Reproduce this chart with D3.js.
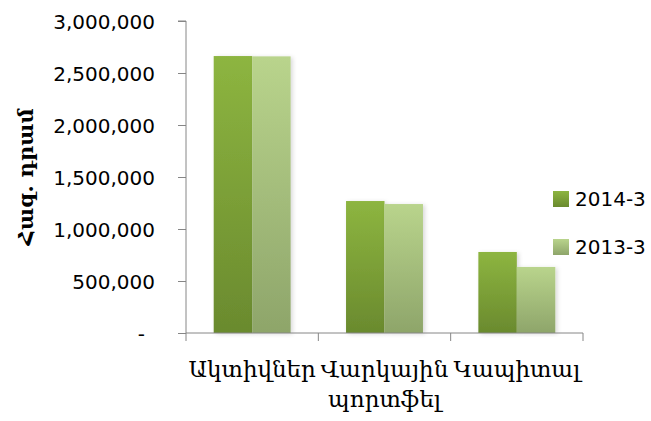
<!DOCTYPE html>
<html lang="hy">
<head>
<meta charset="UTF-8">
<title>Bar chart</title>
<script src="https://d3js.org/d3.v7.min.js"></script>
<style>
  body, html { margin: 0; background: #fff; }
  svg { display: block; }
  .tick-label { font-family: 'DejaVu Sans', sans-serif; font-size: 20px; fill: #000; }
  .cat-label { font-family: 'DejaVu Serif', serif; font-size: 23px; fill: #000; text-anchor: middle; }
  .legend-label { font-family: 'DejaVu Sans', sans-serif; font-size: 20px; fill: #000; }
  .y-title { font-family: 'DejaVu Serif', serif; font-size: 21px; font-weight: bold; fill: #000; text-anchor: middle; }
</style>
</head>
<body>
<svg width="651" height="421"></svg>
<script>
const categories = [["Ակտիվներ"], ["Վարկային", "պորտֆել"], ["Կապիտալ"]];
const seriesNames = ["2014-3", "2013-3"];
const values2014 = [2663000, 1269000, 779000];
const values2013 = [2660000, 1240000, 635000];
const yTicks = [0, 500000, 1000000, 1500000, 2000000, 2500000, 3000000];

const svg = d3.select("svg");
const mLeft = 186, mRight = 583, mTop = 21, mBottom = 333;

const x = d3.scaleBand().domain(d3.range(categories.length)).range([mLeft, mRight]).paddingInner(0).paddingOuter(0);
const xInner = d3.scaleBand().domain(seriesNames).range([0, x.bandwidth()]).paddingOuter(0.72);
const y = d3.scaleLinear().domain([0, 3000000]).range([mBottom, mTop]);

const defs = svg.append("defs");
const grads = [["g2014", "#8db540", "#6a8a2e"], ["g2013", "#b9d48c", "#8ea56a"]];
grads.forEach(([id, c1, c2]) => {
  const g = defs.append("linearGradient").attr("id", id).attr("x1", 0).attr("y1", 0).attr("x2", 0).attr("y2", 1);
  g.append("stop").attr("offset", "0%").attr("stop-color", c1);
  g.append("stop").attr("offset", "100%").attr("stop-color", c2);
});
const f = defs.append("filter").attr("id", "shadow").attr("x", "-20%").attr("y", "-5%").attr("width", "150%").attr("height", "110%");
f.append("feDropShadow").attr("dx", 2).attr("dy", 1).attr("stdDeviation", 2).attr("flood-color", "#000").attr("flood-opacity", 0.15);

// y axis
const yAxis = d3.axisLeft(y).tickValues(yTicks).tickSize(8).tickPadding(23)
  .tickFormat(d => d === 0 ? "-" : d3.format(",")(d));
const yg = svg.append("g").attr("transform", `translate(${mLeft},0)`).call(yAxis);
yg.select(".domain").attr("stroke", "#868686").attr("d", `M-8,${mTop}H0V${mBottom}`);
yg.selectAll(".tick line").attr("stroke", "#868686");
yg.selectAll(".tick text").attr("class", "tick-label").attr("dy", "0.35em");
yg.selectAll(".tick").filter(d => d === 0).select("text").attr("dx", -10);

// bars
const series = [values2014, values2013];
series.forEach((vals, si) => {
  svg.append("g").selectAll("rect").data(vals).join("rect")
    .attr("x", (d, i) => x(i) + xInner(seriesNames[si]))
    .attr("y", d => y(d))
    .attr("width", xInner.bandwidth())
    .attr("height", d => mBottom - y(d))
    .attr("fill", `url(#${grads[si][0]})`)
    .attr("filter", "url(#shadow)");
});

// x axis
const xg = svg.append("g");
xg.append("line").attr("x1", mLeft).attr("x2", mRight).attr("y1", mBottom).attr("y2", mBottom).attr("stroke", "#868686");
const bounds = d3.range(categories.length + 1).map(i => i < categories.length ? x(i) : mRight);
xg.selectAll("line.tk").data(bounds).join("line").attr("class", "tk")
  .attr("x1", d => d).attr("x2", d => d).attr("y1", mBottom).attr("y2", mBottom + 8).attr("stroke", "#868686");

const labels = svg.append("g").selectAll("text").data(categories).join("text")
  .attr("class", "cat-label")
  .attr("x", (d, i) => x(i) + x.bandwidth() / 2)
  .attr("y", 377);
labels.selectAll("tspan").data(d => d).join("tspan")
  .attr("x", function() { return this.parentNode.getAttribute("x"); })
  .attr("dy", (d, i) => i === 0 ? 0 : 30)
  .text(d => d);

// y title
svg.append("text").attr("class", "y-title")
  .attr("transform", `translate(26,${(mTop + mBottom) / 2}) rotate(-90)`)
  .attr("dy", "0.35em")
  .text("Հազ. դրամ");

// legend
const lg = svg.append("g").selectAll("g").data(seriesNames).join("g")
  .attr("transform", (d, i) => `translate(553,${191 + i * 48})`);
lg.append("rect").attr("width", 16).attr("height", 16).attr("fill", (d, i) => `url(#${grads[i][0]})`);
lg.append("text").attr("class", "legend-label").attr("x", 22).attr("y", 8).attr("dy", "0.35em").text(d => d);
</script>
</body>
</html>
